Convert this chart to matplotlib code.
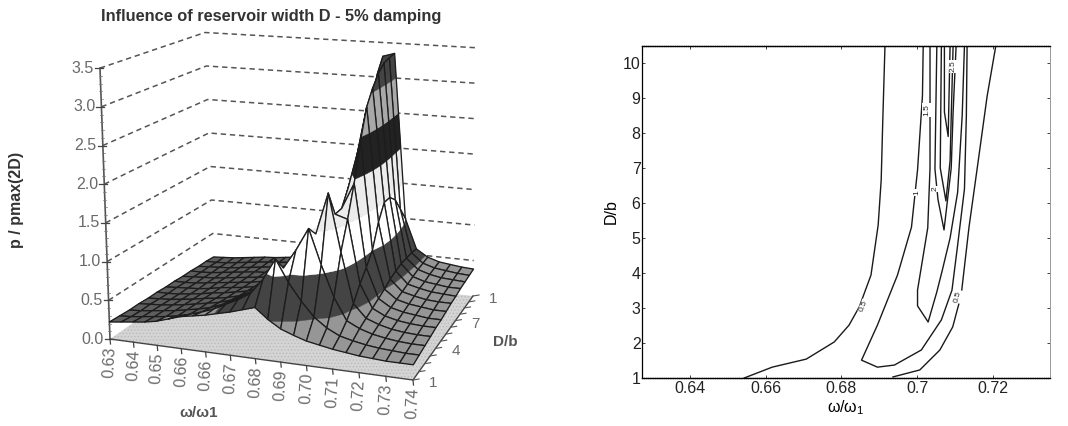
import numpy as np
import matplotlib
matplotlib.use('Agg')
import matplotlib.pyplot as plt
from matplotlib.collections import PolyCollection

plt.rcParams['font.family'] = ['Liberation Sans', 'DejaVu Sans']
plt.rcParams['mathtext.fontset'] = 'custom'
plt.rcParams['mathtext.rm'] = 'Liberation Sans'
plt.rcParams['mathtext.it'] = 'Liberation Sans'
plt.rcParams['hatch.linewidth'] = 0.5

# left chart: p / pmax(2D), one row per D/b step, 25 columns over omega
omega_tick_labels = ['0.63', '0.64', '0.65', '0.66', '0.66', '0.67', '0.68',
                     '0.69', '0.70', '0.71', '0.72', '0.73', '0.74']
d_tick_labels = ['1', '4', '7', '1']
d_tick_values = [1, 4, 7, 10]
z_ticks = [0.0, 0.5, 1.0, 1.5, 2.0, 2.5, 3.0, 3.5]
omega_grid = [0.6300, 0.6346, 0.6392, 0.6438, 0.6483, 0.6529, 0.6575, 0.6621, 0.6667,
              0.6712, 0.6758, 0.6804, 0.6850, 0.6896, 0.6942, 0.6988, 0.7033, 0.7079,
              0.7125, 0.7171, 0.7217, 0.7263, 0.7308, 0.7354, 0.7400]
d_grid = [1, 1.75, 2.5, 3.25, 4, 4.75, 5.5, 6.25, 7, 7.75, 8.5, 9.25, 10]
p_r0 = [.22, .24, .26, .28, .31, .36, .41, .44, .47, .51, .55, .60, .65, .52, .42, .36, .31, .28, .25, .23, .21, .20, .19, .19, .19]
p_r1 = [.21, .22, .24, .26, .28, .31, .35, .40, .46, .54, .62, .72, .92, 1.2, .92, .70, .52, .40, .32, .28, .25, .23, .22, .21, .21]
p_r2 = [.20, .21, .23, .25, .27, .30, .33, .37, .43, .50, .60, .70, .84, 1.0, 1.25, 1.55, 1.1, .70, .42, .34, .29, .26, .24, .23, .23]
p_r3 = [.20, .21, .22, .24, .26, .29, .32, .35, .40, .47, .56, .66, .78, .92, 1.1, 1.4, 1.95, 1.2, .55, .38, .32, .28, .26, .25, .25]
p_r4 = [.19, .20, .21, .23, .25, .28, .30, .33, .37, .44, .52, .62, .72, .85, 1.0, 1.25, 1.6, 1.55, .72, .42, .34, .30, .28, .27, .27]
p_r5 = [.19, .19, .20, .22, .24, .27, .29, .32, .35, .41, .48, .56, .66, .80, .95, 1.2, 1.6, 1.95, .85, .46, .36, .32, .30, .28, .28]
p_r6 = [.18, .19, .20, .21, .23, .26, .28, .30, .33, .38, .44, .52, .60, .74, .92, 1.2, 1.8, 2.45, 1.0, .50, .38, .34, .32, .30, .30]
p_r7 = [.18, .18, .19, .21, .23, .25, .27, .29, .32, .35, .40, .46, .54, .68, .90, 1.25, 2.0, 2.85, 1.3, .55, .40, .36, .33, .32, .32]
p_r8 = [.17, .18, .19, .20, .22, .24, .26, .28, .30, .33, .37, .42, .50, .64, .90, 1.3, 2.2, 3.05, 1.5, .58, .42, .38, .35, .34, .33]
p_r9 = [.17, .17, .18, .20, .22, .24, .26, .27, .29, .32, .35, .40, .46, .60, .88, 1.35, 2.5, 3.2, 1.5, .60, .44, .39, .37, .35, .35]
p_r10 = [.16, .17, .18, .19, .21, .23, .25, .27, .29, .31, .34, .38, .44, .58, .88, 1.4, 2.8, 3.3, 1.4, .60, .46, .41, .38, .37, .36]
p_r11 = [.16, .16, .17, .19, .21, .23, .25, .26, .28, .30, .33, .37, .43, .56, .88, 1.5, 3.1, 3.33, 1.2, .60, .47, .42, .40, .38, .37]
p_r12 = [.15, .16, .17, .19, .21, .23, .24, .26, .28, .30, .33, .37, .42, .54, .88, 1.6, 3.3, 3.35, 1.0, .58, .48, .43, .41, .39, .38]

# right chart: contour lines as (omega, D/b)
c05_left_w = [.6543, .6617, .6707, .6781, .6820, .6847, .6878, .6897, .6905, .6909, .6915]
c05_left_d = [1.0, 1.31, 1.54, 2.03, 2.51, 3.03, 3.94, 5.37, 6.66, 8.29, 10.5]
c05_right_w = [.6936, .7007, .7060, .7094, .7108, .7116, .7137, .7158, .7185, .7208]
c05_right_d = [1.03, 1.23, 1.80, 2.46, 3.03, 3.34, 5.31, 6.94, 9.06, 10.5]
c1_w = [.7016, .7014, .7001, .6985, .6948, .6895, .6853, .6895, .6940, .7011, .7064, .7092, .7107, .7125, .7130, .7132]
c1_d = [10.5, 9.06, 6.94, 5.31, 3.94, 2.51, 1.51, 1.31, 1.37, 1.80, 2.66, 3.51, 4.8, 6.4, 8.5, 10.5]
c15_w = [.7034, .7034, .7028, .7001, .7001, .7029, .7052, .7066, .7087, .7107, .7119, .7125]
c15_d = [10.5, 7.0, 5.29, 3.51, 3.06, 2.60, 3.46, 4.06, 5.0, 6.31, 8.5, 10.5]
c2_w = [.7052, .7047, .7055, .7071, .7090, .7095, .7103]
c2_d = [10.5, 6.97, 6.1, 5.23, 7.0, 8.6, 10.5]
c25_w = [.7064, .7061, .7076, .7087, .7095]
c25_d = [10.5, 7.0, 6.06, 7.2, 10.5]
c3_w = [.7072, .7072, .7082, .7087]
c3_d = [10.5, 8.6, 7.9, 10.5]
contour_w = [c05_left_w, c05_right_w, c1_w, c15_w, c2_w, c25_w, c3_w]
contour_d = [c05_left_d, c05_right_d, c1_d, c15_d, c2_d, c25_d, c3_d]
label_text = ['0.5', '0.5', '1.5', '1', '2', '2.5']
label_w = [.6859, .7108, .7025, .7000, .7047, .7095]
label_d = [3.05, 3.33, 8.66, 6.3, 6.4, 9.9]
label_rot = [68, 75, 90, 90, 90, 90]

# floor corners and height vectors, fixed once from the reference picture
floor_xy = {'A': (110, 339), 'B': (413, 380), 'C': (473, 296), 'E': (214, 267)}
zvec = {'A': (-2.86, -77.4), 'B': (1.5, -80.0), 'C': (1.43, -70.9), 'E': (-2.57, -67.0)}


def homography():
    src = [(0, 0), (1, 0), (1, 1), (0, 1)]
    dst = [floor_xy[k] for k in 'ABCE']
    m, r = [], []
    for (u, v), (x, y) in zip(src, dst):
        m.append([u, v, 1, 0, 0, 0, -u * x, -v * x])
        m.append([0, 0, 0, u, v, 1, -u * y, -v * y])
        r += [x, y]
    return np.append(np.linalg.solve(np.array(m, float), np.array(r, float)), 1).reshape(3, 3)


H = homography()
W_MIN, W_MAX, D_MIN, D_MAX = omega_grid[0], omega_grid[-1], d_grid[0], d_grid[-1]


def project(w, d, z=0.0):
    u = (w - W_MIN) / (W_MAX - W_MIN)
    v = (d - D_MIN) / (D_MAX - D_MIN)
    q = H @ np.array([u, v, 1.0])
    x, y = q[0] / q[2], q[1] / q[2]
    dx = (zvec['A'][0] * (1 - u) + zvec['B'][0] * u) * (1 - v) + (zvec['E'][0] * (1 - u) + zvec['C'][0] * u) * v
    dy = (zvec['A'][1] * (1 - u) + zvec['B'][1] * u) * (1 - v) + (zvec['E'][1] * (1 - u) + zvec['C'][1] * u) * v
    return x + dx * z, y + dy * z


def clip_band(poly, lo, hi):
    out = poly
    for level, keep_above in ((lo, True), (hi, False)):
        res = []
        for i in range(len(out)):
            a, b = out[i], out[(i + 1) % len(out)]
            ina = a[2] >= level if keep_above else a[2] <= level
            inb = b[2] >= level if keep_above else b[2] <= level
            if ina:
                res.append(a)
            if ina != inb:
                t = (level - a[2]) / (b[2] - a[2])
                res.append(tuple(a[k] + t * (b[k] - a[k]) for k in range(3)))
        out = res
        if not out:
            return []
    return out


fig = plt.figure(figsize=(10.68, 4.26), dpi=100)
ax = fig.add_axes([0, 0, 1, 1])
ax.set_xlim(0, 1068)
ax.set_ylim(426, 0)
ax.axis('off')

grey_text = '#6a6a6a'
ax.text(271, 16, 'Influence of reservoir width D - 5% damping', fontsize=11.8, fontweight='bold',
        color='#333333', ha='center', va='center')
ax.text(17, 200, 'p / pmax(2D)', fontsize=11.5, fontweight='bold', color='#333333',
        rotation=90, ha='center', va='center')
ax.text(199, 413, 'ω/ω1', fontsize=11, fontweight='bold', color='#555555', ha='center', va='center')
ax.text(505, 342, 'D/b', fontsize=11, fontweight='bold', color='#555555', ha='center', va='center')

# floor
floor = [project(W_MIN, D_MIN), project(W_MAX, D_MIN), project(W_MAX, D_MAX), project(W_MIN, D_MAX)]
ax.fill(*zip(*floor), facecolor='#d4d4d4', edgecolor='#b8b8b8', hatch='.....', lw=0, zorder=1)
ax.plot(*zip(floor[0], floor[1], floor[2]), color='#444444', lw=1.0, zorder=2)

# dashed walls
for z in z_ticks[1:]:
    pts = [project(W_MIN, D_MIN, z), project(W_MIN, D_MAX, z), project(W_MAX, D_MAX, z)]
    ax.plot(*zip(*pts), color='#555555', lw=1.1, dashes=(3.5, 2.5), zorder=1)

# z axis
ax.plot(*zip(project(W_MIN, D_MIN, 0), project(W_MIN, D_MIN, 3.5)), color='#555555', lw=1.2, zorder=2)
for z in np.arange(0, 3.51, 0.1):
    x, y = project(W_MIN, D_MIN, z)
    ax.plot([x - 1.5, x + 1.5], [y, y], color='#777777', lw=0.5, zorder=2)
for z in z_ticks:
    x, y = project(W_MIN, D_MIN, z)
    ax.plot([x - 5, x + 3], [y, y], color='#444444', lw=0.9, zorder=2)
    ax.text(x - 6, y, '%.1f' % z, fontsize=11.5, color=grey_text, ha='right', va='center')

# omega axis ticks
for i, lab in enumerate(omega_tick_labels):
    w = W_MIN + (W_MAX - W_MIN) * i / (len(omega_tick_labels) - 1)
    x, y = project(w, D_MIN)
    ax.plot([x, x + 0.5], [y, y + 5], color='#444444', lw=0.9, zorder=2)
    ax.text(x, y + 7, lab, fontsize=11.5, color=grey_text, rotation=87, ha='center', va='top')

# D axis ticks
for d in d_grid:
    x, y = project(W_MAX, d)
    ax.plot([x, x + 6], [y, y - 1], color='#555555', lw=0.8, zorder=2)
for d, lab in zip(d_tick_values, d_tick_labels):
    x, y = project(W_MAX, d)
    ax.text(x + 20, y + 3, lab, fontsize=11, color=grey_text, ha='center', va='center')

# surface, painter's order by floor position
P = np.array([p_r0, p_r1, p_r2, p_r3, p_r4, p_r5, p_r6, p_r7, p_r8, p_r9, p_r10, p_r11, p_r12])
band_edges = [0, .5, 1, 1.5, 2, 2.5, 3, 9]
band_colors = ['#969696', '#444444', '#ffffff', '#ececec', '#222222', '#a8a8a8', '#444444']
cells = []
for r in range(len(d_grid) - 1):
    for c in range(len(omega_grid) - 1):
        _, key = project(0.5 * (omega_grid[c] + omega_grid[c + 1]), 0.5 * (d_grid[r] + d_grid[r + 1]))
        cells.append((key, r, c))
cells.sort()

polys, faces, edges, widths = [], [], [], []
for key, r, c in cells:
    quad = [(omega_grid[c], d_grid[r], P[r, c]), (omega_grid[c + 1], d_grid[r], P[r, c + 1]),
            (omega_grid[c + 1], d_grid[r + 1], P[r + 1, c + 1]), (omega_grid[c], d_grid[r + 1], P[r + 1, c])]
    for b in range(len(band_colors)):
        piece = clip_band(quad, band_edges[b], band_edges[b + 1])
        if len(piece) < 3:
            continue
        color = band_colors[b]
        if b == 0 and omega_grid[c] < 0.678 and not (r == 0 and omega_grid[c] > 0.648):
            color = '#5e5e5e'
        polys.append([project(*p) for p in piece])
        faces.append(color)
        edges.append(color)
        widths.append(0.3)
    polys.append([project(*p) for p in quad])
    faces.append('none')
    edges.append('#1c1c1c')
    widths.append(0.95)
ax.add_collection(PolyCollection(polys, facecolors=faces, edgecolors=edges, linewidths=widths, zorder=3))

# right chart
ax2 = fig.add_axes([642 / 1068, 1 - 378 / 426, (1050 - 642) / 1068, (378 - 45.5) / 426])
ax2.set_xlim(0.6273, 0.7351)
ax2.set_ylim(1, 10.5)
for w, d in zip(contour_w, contour_d):
    ax2.plot(w, d, color='#1a1a1a', lw=1.0)
for t, w, d, rot in zip(label_text, label_w, label_d, label_rot):
    ax2.text(w, d, t, fontsize=6, rotation=rot, ha='center', va='center', color='#222222',
             bbox=dict(facecolor='white', edgecolor='none', pad=0.5))
ax2.set_xticks([0.64, 0.66, 0.68, 0.70, 0.72])
ax2.set_xticklabels(['0.64', '0.66', '0.68', '0.7', '0.72'])
ax2.set_yticks(range(1, 11))
ax2.tick_params(direction='in', length=2.5, width=0.6, labelsize=11.5, top=True, right=True, pad=2, colors='#222222')
ax2.tick_params(axis='y', pad=1)
ax2.set_xlabel(r'$\omega/\omega_1$', fontsize=11.5, labelpad=2)
ax2.set_ylabel('D/b', fontsize=11.5, labelpad=3)
ax2.spines['top'].set_linestyle((0, (1, 0.6)))
ax2.spines['bottom'].set_linestyle((0, (1, 0.6)))
ax2.spines['right'].set_linestyle((0, (2, 1)))
ax2.spines['right'].set_color('#999999')
ax2.spines['right'].set_linewidth(0.7)
ax2.spines['left'].set_linewidth(0.9)
ax2.spines['top'].set_linewidth(1.0)
ax2.spines['bottom'].set_linewidth(1.0)

fig.savefig('out.png', dpi=100)
